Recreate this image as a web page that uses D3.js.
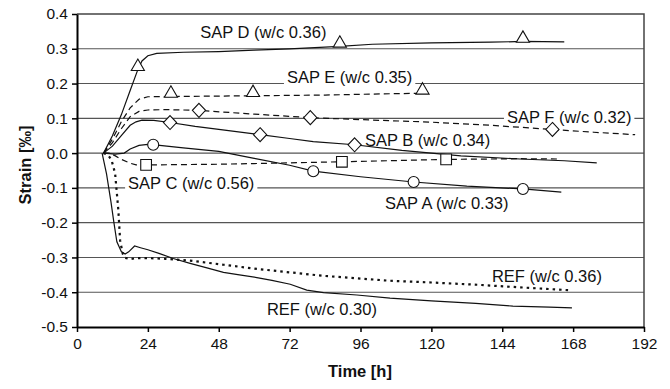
<!DOCTYPE html>
<html>
<head>
<meta charset="utf-8">
<script src="https://cdn.jsdelivr.net/npm/d3@7"></script>
<style>
body{margin:0;background:#fff;}
text{font-family:"Liberation Sans",Arial,Helvetica,sans-serif;fill:#111;}
</style>
</head>
<body>
<script>
//values: [time h, strain ‰]
var sapD = [[9,0],[12,0.05],[15,0.11],[18,0.18],[20.6,0.24],[22,0.265],[24,0.28],[27,0.287],[36,0.29],[48,0.292],[60,0.296],[72,0.3],[89,0.307],[100,0.313],[120,0.317],[140,0.319],[151,0.321],[165,0.32]];
var sapE = [[9,0],[12,0.04],[15,0.09],[18,0.13],[21,0.155],[24,0.162],[36,0.163],[48,0.164],[60,0.165],[72,0.166],[84,0.167],[96,0.169],[108,0.171],[117,0.172]];
var sapF = [[9,0],[12,0.03],[15,0.07],[18,0.105],[21,0.12],[24,0.124],[30,0.125],[41,0.123],[60,0.112],[79,0.102],[100,0.095],[120,0.089],[140,0.08],[161,0.068],[175,0.06],[189,0.053]];
var sapB = [[9,0],[12,0.02],[15,0.05],[18,0.08],[20,0.09],[22,0.095],[26,0.094],[31.5,0.088],[40,0.077],[50,0.066],[62,0.053],[72,0.042],[80,0.033],[94,0.024],[110,0.008],[130,-0.008],[150,-0.017],[165,-0.022],[176,-0.028]];
var sapC = [[9,0],[11,0],[13,-0.008],[15,-0.018],[18,-0.029],[20,-0.034],[23.4,-0.034],[36,-0.033],[48,-0.032],[60,-0.03],[72,-0.028],[89.7,-0.025],[105,-0.022],[125,-0.018],[140,-0.017],[150,-0.016],[163.6,-0.017]];
var sapA = [[9,0],[13,-0.003],[16,0],[18,0.012],[21,0.022],[24,0.025],[28,0.022],[36,0.015],[48,0.005],[60,-0.015],[72,-0.035],[80,-0.052],[96,-0.068],[114,-0.083],[132,-0.095],[151,-0.103],[164,-0.112]];
var ref30 = [[8.5,0],[10,-0.06],[11.5,-0.14],[12.5,-0.2],[13.5,-0.255],[15,-0.283],[16.3,-0.29],[17.5,-0.284],[19.5,-0.267],[21.5,-0.272],[24,-0.278],[28,-0.289],[32.6,-0.303],[38.3,-0.317],[44,-0.33],[49.6,-0.343],[55,-0.35],[60.9,-0.358],[66,-0.366],[72.2,-0.377],[77.8,-0.394],[83.5,-0.401],[94.8,-0.408],[106,-0.417],[120,-0.425],[135,-0.432],[147.6,-0.44],[160,-0.443],[167.6,-0.445]];
var ref36 = [[9,0],[10.5,-0.005],[11.7,-0.02],[12.9,-0.058],[14,-0.164],[14.6,-0.251],[15.5,-0.29],[16.3,-0.301],[18,-0.305],[20,-0.302],[24,-0.302],[30,-0.304],[38.3,-0.309],[49.6,-0.321],[60.9,-0.333],[72.2,-0.343],[83.5,-0.353],[94.8,-0.36],[106,-0.367],[120,-0.372],[136.5,-0.379],[150,-0.386],[166.4,-0.394]];

//marker points on the curves
var sapDMarks = [[20.6,0.24],[89,0.307],[151,0.321]];
var sapEMarks = [[31.8,0.163],[59.6,0.165],[117,0.172]];
var sapFMarks = [[41.3,0.123],[79,0.102],[161,0.068]];
var sapBMarks = [[31.5,0.088],[62,0.053],[94,0.024]];
var sapCMarks = [[23.4,-0.034],[89.7,-0.025],[125,-0.018]];
var sapAMarks = [[25.8,0.024],[80,-0.052],[114,-0.083],[151,-0.103]];

var xTicks = [0,24,48,72,96,120,144,168,192];
var yTicks = [-0.5,-0.4,-0.3,-0.2,-0.1,0,0.1,0.2,0.3,0.4];

//curve labels: text, left edge (h), middle (‰)
var labelText = ["SAP D (w/c 0.36)","SAP E (w/c 0.35)","SAP F (w/c 0.32)","SAP B (w/c 0.34)","SAP C (w/c 0.56)","SAP A (w/c 0.33)","REF (w/c 0.36)","REF (w/c 0.30)"];
var labelAt = [[41.7,0.349],[71.1,0.218],[145.6,0.105],[97.5,0.0386],[17.3,-0.085],[104.3,-0.144],[140.5,-0.353],[64.3,-0.448]];

var series = [
    {data:sapD, dash:null, marks:sapDMarks, shape:"triangle"},
    {data:sapE, dash:"6,4", marks:sapEMarks, shape:"triangle"},
    {data:sapF, dash:"6,4", marks:sapFMarks, shape:"diamond"},
    {data:sapB, dash:null, marks:sapBMarks, shape:"diamond"},
    {data:sapC, dash:"6,4", marks:sapCMarks, shape:"square"},
    {data:sapA, dash:null, marks:sapAMarks, shape:"circle"},
    {data:ref30, dash:null, marks:[], shape:null},
    {data:ref36, dash:"2.5,4", marks:[], shape:null, width:2.2}
];

var width = 670, height = 389;
var svg = d3.select("body").append("svg")
    .attr("width", width)
    .attr("height", height);

var x = d3.scaleLinear().domain([0,192]).range([77,644]);
var y = d3.scaleLinear().domain([-0.5,0.4]).range([327,14]);

//horizontal gridlines
svg.selectAll(".grid")
    .data(yTicks.filter(function(d){ return d > -0.5 && d < 0.4; }))
    .enter().append("line")
    .attr("class","grid")
    .attr("x1", x(0)).attr("x2", x(192))
    .attr("y1", function(d){ return y(d); })
    .attr("y2", function(d){ return y(d); })
    .attr("stroke","#555").attr("stroke-width",1.1);

//frame top + right
svg.append("path")
    .attr("d","M"+x(0)+","+y(0.4)+"H"+x(192)+"V"+y(-0.5))
    .attr("fill","none").attr("stroke","#444").attr("stroke-width",1.5);

//labels (white boxes hide gridlines)
var labels = svg.append("g");
var lab = labels.selectAll("g").data(labelText).enter().append("g");
lab.append("text")
    .attr("x", function(d,i){ return x(labelAt[i][0]); })
    .attr("y", function(d,i){ return y(labelAt[i][1]); })
    .attr("dy","0.36em")
    .style("font-size","16.5px")
    .text(function(d){ return d; });
lab.each(function(){
    var g = d3.select(this), b = g.select("text").node().getBBox();
    g.insert("rect","text")
        .attr("x", b.x-3).attr("y", b.y)
        .attr("width", b.width+6).attr("height", b.height)
        .attr("fill","#fff");
});

//curves
var line = d3.line()
    .x(function(d){ return x(d[0]); })
    .y(function(d){ return y(d[1]); });

svg.selectAll(".curve").data(series).enter().append("path")
    .attr("class","curve")
    .attr("d", function(d){ return line(d.data); })
    .attr("fill","none")
    .attr("stroke","#111")
    .attr("stroke-width", function(d){ return d.width || 1.2; })
    .attr("stroke-dasharray", function(d){ return d.dash; });

//markers
var shapes = {
    triangle: d3.symbol().type(d3.symbolTriangle).size(75),
    diamond: function(){ return "M0,-7L6.6,0L0,7L-6.6,0Z"; },
    square: d3.symbol().type(d3.symbolSquare).size(115),
    circle: d3.symbol().type(d3.symbolCircle).size(95)
};
series.forEach(function(s){
    svg.selectAll(null).data(s.marks).enter().append("path")
        .attr("transform", function(d){
            var dy = s.shape == "triangle" ? -3 : 0;
            return "translate("+x(d[0])+","+(y(d[1])+dy)+")";
        })
        .attr("d", shapes[s.shape])
        .attr("fill","#fff")
        .attr("stroke","#111")
        .attr("stroke-width",1.1);
});

//axes
var fmt = function(d){ return Math.abs(d) < 1e-9 ? "0.0" : d.toFixed(1); };
var yAxis = svg.append("g")
    .attr("transform","translate("+x(0)+",0)")
    .call(d3.axisLeft(y).tickValues(yTicks).tickFormat(fmt).tickSize(5).tickSizeOuter(0).tickPadding(4));
var xAxis = svg.append("g")
    .attr("transform","translate(0,"+y(-0.5)+")")
    .call(d3.axisBottom(x).tickValues(xTicks).tickSize(5).tickSizeOuter(0).tickPadding(6));
[yAxis, xAxis].forEach(function(a){
    a.select(".domain").attr("stroke","#000").attr("stroke-width",2);
    a.selectAll(".tick line").attr("stroke","#000").attr("stroke-width",1.5);
    a.selectAll(".tick text").style("font-size","15.5px").style("font-family","Liberation Sans, Arial, sans-serif").attr("fill","#111");
});

//axis titles
svg.append("text")
    .attr("transform","translate(31,165) rotate(-90)")
    .attr("text-anchor","middle")
    .style("font-size","16.5px").style("font-weight","bold")
    .text("Strain [‰]");
svg.append("text")
    .attr("x",360).attr("y",377)
    .attr("text-anchor","middle")
    .style("font-size","16.5px").style("font-weight","bold")
    .text("Time [h]");
</script>
</body>
</html>
